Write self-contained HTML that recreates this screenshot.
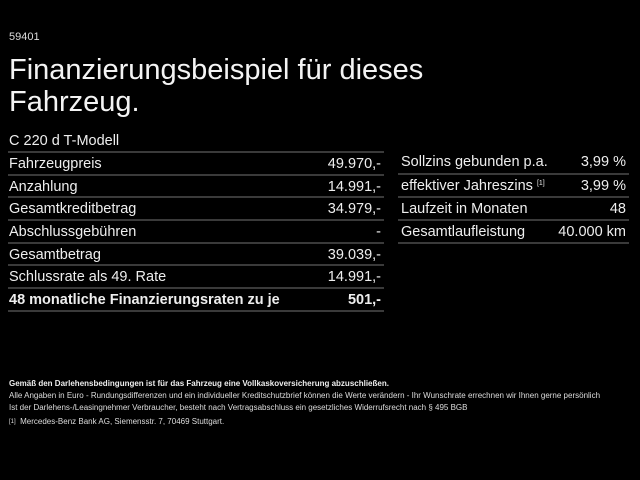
<!DOCTYPE html>
<html><head><meta charset="utf-8"><style>
*{margin:0;padding:0;box-sizing:border-box}
body{width:640px;height:480px;background:#000;color:#fff;font-family:"Liberation Sans",Arial,sans-serif;position:relative;overflow:hidden}
.a{position:absolute;white-space:nowrap}
.id{left:9px;top:31px;font-size:11px;color:#ddd}
.t{left:9px;top:54px;font-size:29px;line-height:32px;color:#f4f4f4}
.m{left:9px;top:133px;font-size:14.5px;color:#eee}
.row{position:absolute;height:23px;font-size:14.5px;line-height:22px;color:#eee;border-top:2px solid #3a3a3a}
.row span{position:absolute;right:3px;top:0}
.row b{font-weight:bold}
.L{left:8px;width:376px;padding-left:1px}
.R{left:398px;width:231px;padding-left:3px}
.f{left:9px;font-size:8px;color:#ddd}
sup{font-size:7px;vertical-align:5px;line-height:0}
</style></head><body>
<div class="a id">59401</div>
<div class="a t">Finanzierungsbeispiel für dieses<br>Fahrzeug.</div>
<div class="a m">C 220 d T-Modell</div>

<div class="row L" style="top:151px">Fahrzeugpreis<span>49.970,-</span></div>
<div class="row L" style="top:174px">Anzahlung<span>14.991,-</span></div>
<div class="row L" style="top:196px">Gesamtkreditbetrag<span>34.979,-</span></div>
<div class="row L" style="top:219px">Abschlussgebühren<span>-</span></div>
<div class="row L" style="top:242px">Gesamtbetrag<span>39.039,-</span></div>
<div class="row L" style="top:264px">Schlussrate als 49. Rate<span>14.991,-</span></div>
<div class="row L" style="top:287px;border-bottom:2px solid #3a3a3a;height:25px"><b>48 monatliche Finanzierungsraten zu je</b><span><b>501,-</b></span></div>

<div class="row R" style="top:151px;border-top:none">Sollzins gebunden p.a.<span>3,99 %</span></div>
<div class="row R" style="top:173px">effektiver Jahreszins <sup>[1]</sup><span>3,99 %</span></div>
<div class="row R" style="top:196px">Laufzeit in Monaten<span>48</span></div>
<div class="row R" style="top:219px;border-bottom:2px solid #3a3a3a;height:25px">Gesamtlaufleistung<span>40.000 km</span></div>

<div class="a f" style="top:379px;font-weight:bold;color:#eee">Gemäß den Darlehensbedingungen ist für das Fahrzeug eine Vollkaskoversicherung abzuschließen.</div>
<div class="a f" style="top:391px">Alle Angaben in Euro - Rundungsdifferenzen und ein individueller Kreditschutzbrief können die Werte verändern - Ihr Wunschrate errechnen wir Ihnen gerne persönlich</div>
<div class="a f" style="top:403px">Ist der Darlehens-/Leasingnehmer Verbraucher, besteht nach Vertragsabschluss ein gesetzliches Widerrufsrecht nach § 495 BGB</div>
<div class="a f" style="top:417px"><span style="font-size:6px;vertical-align:1px">[1]</span>&nbsp; Mercedes-Benz Bank AG, Siemensstr. 7, 70469 Stuttgart.</div>
</body></html>
